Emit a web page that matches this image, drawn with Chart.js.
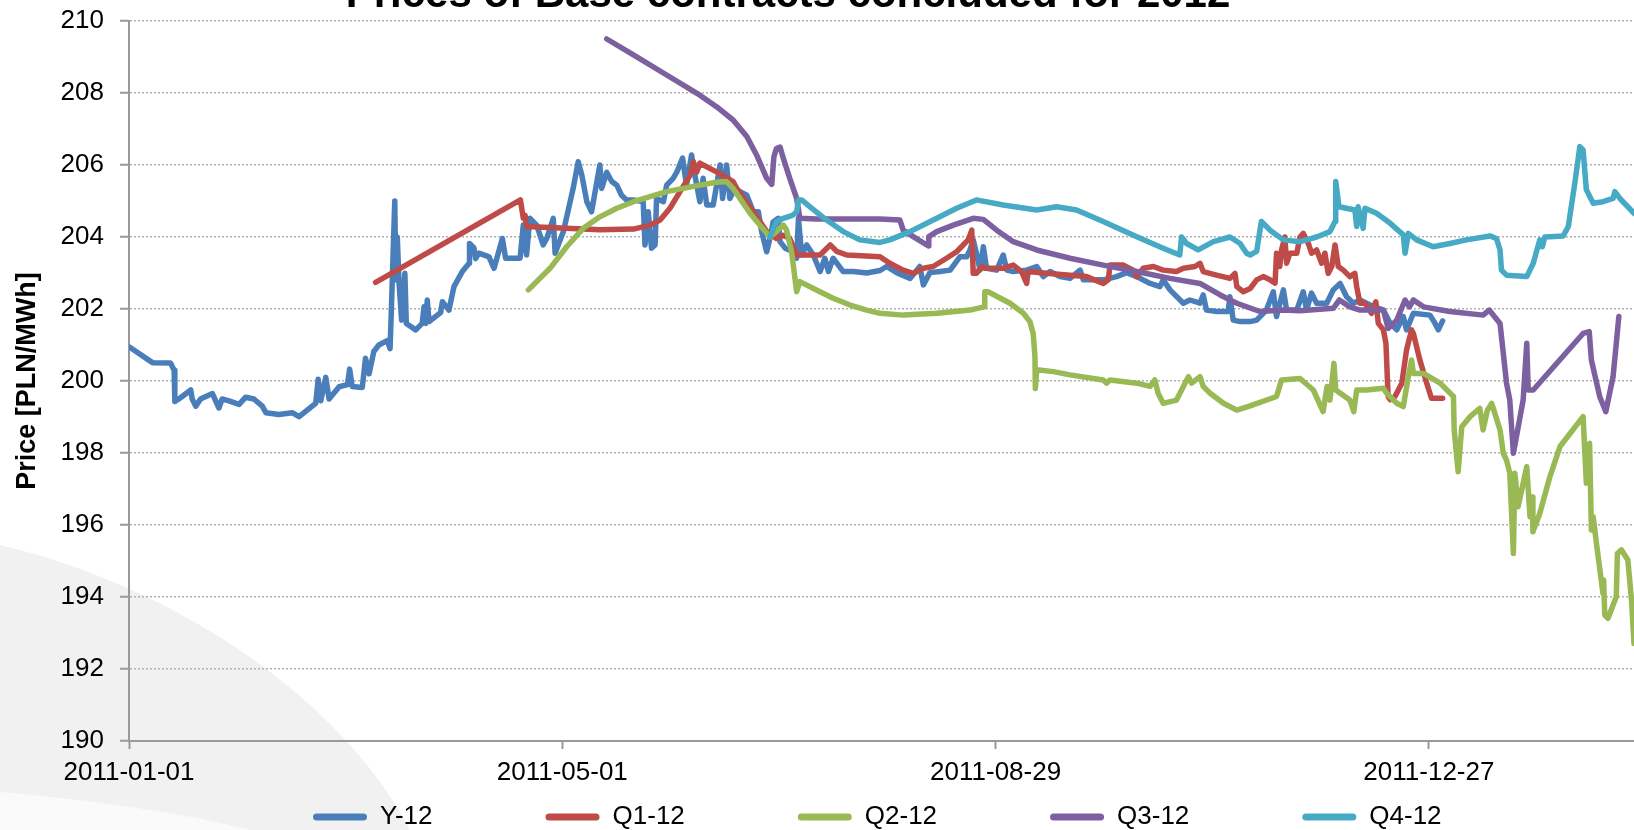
<!DOCTYPE html>
<html>
<head>
<meta charset="utf-8">
<script src="https://cdn.jsdelivr.net/npm/chart.js@4.4.1/dist/chart.umd.min.js"></script>
<style>
html,body{margin:0;padding:0;width:1634px;height:830px;overflow:hidden;background:#ffffff;}
#bg{position:absolute;left:0;top:0;}
#wrap{position:absolute;left:0;top:-40px;width:1634px;height:870px;}
</style>
</head>
<body>
<svg id="bg" width="1634" height="830">
  <path d="M0,545 C150,580 330,680 410,830 L0,830 Z" fill="#f1f1f1"/>
  <path d="M0,792 C90,800 180,812 250,830 L0,830 Z" fill="#fafafa"/>
</svg>
<div id="wrap"><canvas id="c" width="1634" height="870"></canvas></div>
<script>
// Day offsets are days since 2011-01-01
const seriesNames = ['Y-12', 'Q1-12', 'Q2-12', 'Q3-12', 'Q4-12'];
const tickDays = [0, 120, 240, 360];
const tickLabels = ['2011-01-01', '2011-05-01', '2011-08-29', '2011-12-27'];

const y12Days = [0,6.5,11.5,12.5,12.7,13.8,17.1,17.5,18.5,19.8,23.1,24.9,25.8,27.7,30.5,32.3,34.6,36.9,37.9,41.5,45.2,47.1,51.7,52.4,53.1,54.5,55.4,58.2,60.5,61.1,61.8,64.6,65.5,66.5,67.8,69.2,71.5,72.3,72.6,73.6,73.9,74.3,74.8,75.5,76.4,76.8,79.4,81.2,81.7,82.2,82.6,83.1,86.3,86.8,88.6,90.0,92.3,94.2,94.3,95.5,96.0,96.9,99.7,101.1,103.4,104.3,
105.5,108.3,109.2,110.1,111.0,112.9,114.7,115.7,117.5,118.0,120.3,123.0,124.4,125.4,126.8,128.1,130.4,130.9,132.3,133.7,135.1,136.4,137.8,139.7,142.4,142.9,143.8,144.7,145.7,146.1,148.0,148.9,150.7,151.7,153.3,154.4,155.8,156.7,158.1,159.0,160.0,161.8,163.7,164.4,165.5,166.4,167.8,169.2,171.1,172.9,174.3,175.2,176.6,177.5,178.4,179.8,180.3,181.7,184.0,184.9,185.4,186.3,187.7,189.5,191.4,192.7,193.7,195.0,197.8,200.6,204.3,208.0,
209.8,212.6,216.3,219.0,220.0,221.8,224.6,227.4,230.1,232.0,232.9,233.8,234.7,235.7,236.6,237.5,240.3,242.1,243.1,244.9,248.6,251.4,253.2,255.1,257.8,260.6,263.4,264.3,269.8,273.5,276.3,279.1,282.8,285.5,286.4,288.3,292.0,293.8,296.6,297.5,298.4,301.2,304.4,304.9,305.8,307.7,310.5,
312.3,315.0,316.9,317.8,319.7,320.6,323.4,325.2,326.1,327.5,328.9,331.7,333.5,335.4,337.2,339.1,340.9,343.7,347.4,349.3,351.1,352.9,353.8,355.7,360.3,361.7,362.6,363.8];
const y12Vals = [200.95,200.51,200.5,200.3,199.43,199.5,199.75,199.5,199.3,199.5,199.65,199.25,199.5,199.45,199.35,199.55,199.5,199.3,199.12,199.07,199.12,199.01,199.38,200.05,199.45,200.1,199.5,199.84,199.9,200.33,199.85,199.82,200.63,200.2,200.82,201.0,201.12,200.9,201.79,205.0,202.81,204.0,202.7,201.69,202.99,201.6,201.42,201.6,202.06,201.6,202.25,201.65,201.9,202.2,201.97,202.62,203.04,203.27,203.82,203.7,203.4,203.55,203.45,203.13,203.96,203.41,
203.41,203.41,204.33,203.5,204.52,204.33,203.78,203.96,204.52,203.55,204.15,205.35,206.09,205.72,204.98,204.7,206.0,205.35,205.8,205.54,205.44,205.16,205.03,205.03,204.98,203.78,204.7,203.69,203.78,205.07,204.98,205.44,205.63,205.8,206.19,205.44,206.28,205.72,204.98,205.63,204.89,204.89,206.0,205.07,206.0,205.07,205.35,205.26,205.16,204.7,204.7,204.15,203.59,203.96,204.42,204.52,203.87,203.69,203.59,203.41,204.52,203.5,203.78,203.5,203.04,203.41,203.04,203.41,203.04,203.04,203.0,203.07,
203.18,203.01,202.85,203.18,202.67,203.01,203.04,203.08,203.45,203.45,203.64,203.92,203.55,203.08,203.73,203.13,203.08,203.5,203.08,203.04,203.08,203.18,202.9,203.04,202.9,202.85,203.08,202.81,202.81,202.9,203.01,202.9,202.71,202.62,202.81,202.53,202.16,202.25,202.16,202.39,201.97,201.93,201.93,202.34,201.69,201.65,201.65,
201.69,201.97,202.48,201.79,202.53,201.97,201.97,202.48,201.97,202.44,202.16,202.16,202.53,202.71,202.34,202.16,202.25,202.11,201.97,201.6,201.42,201.79,201.42,201.88,201.83,201.6,201.42,201.67];

const q1Days = [68.3,108.4,109.2,109.7,110.1,121.2,130.4,139.7,144.3,147.1,149.8,152.6,155.4,156.3,157.2,158.1,162.7,167.3,168.3,172.9,176.6,179.3,181.2,183.0,184.9,191.4,194.2,196.0,198.8,208.0,210.7,214.4,217.2,220.0,222.7,226.4,229.2,232.4,233.4,233.8,234.7,236.1,237.0,242.1,244.9,247.2,248.6,249.0,254.1,260.6,265.2,269.8,271.2,271.7,275.4,278.1,279.1,280.9,283.7,286.4,290.1,292.0,295.2,296.6,297.5,301.2,304.9,306.3,306.8,308.6,310.5,312.3,314.1,316.0,317.4,317.8,318.7,319.2,320.1,320.6,321.5,323.4,324.3,325.2,326.6,327.5,328.9,330.3,331.2,332.1,333.1,334.0,334.9,336.3,338.1,339.5,340.0,340.9,342.3,344.1,345.3,346.0,347.4,348.1,348.7,349.3,350.6,352.5,353.8,355.2,355.7,357.5,359.4,360.7,363.8];
const q1Vals = [202.74,205.03,204.52,204.6,204.29,204.24,204.2,204.22,204.33,204.47,204.8,205.26,205.72,206.09,205.8,206.05,205.81,205.54,205.35,204.7,204.15,203.96,204.05,203.96,203.5,203.5,203.78,203.6,203.5,203.45,203.27,203.08,202.99,203.13,203.18,203.41,203.59,203.92,204.19,202.99,202.99,203.18,203.13,203.13,203.22,203.04,202.71,203.04,202.99,202.94,202.9,202.71,202.81,203.22,203.22,203.08,202.9,203.13,203.18,203.08,203.04,203.13,203.18,203.27,203.04,202.94,202.85,202.99,202.62,202.48,202.57,202.81,202.9,202.81,202.72,203.55,203.18,203.64,204.0,203.27,203.55,203.55,204.0,204.1,203.82,203.55,203.64,203.27,203.55,202.99,203.18,203.78,203.18,203.08,202.9,202.99,202.62,202.16,202.16,201.88,202.2,201.6,201.42,201.05,199.57,199.48,199.57,199.94,200.86,201.42,201.32,200.58,199.94,199.52,199.52];

const q2Days = [110.6,116.6,121.2,125.8,130.4,135.1,139.7,144.3,148.9,153.5,158.1,162.7,165.5,167.3,172.0,174.7,177.5,179.3,181.2,182.1,183.5,184.9,185.8,190.4,195.0,199.7,204.3,208.0,214.4,223.7,232.9,236.8,237.0,237.9,244.0,247.7,249.5,250.4,250.9,251.0,251.4,256.0,260.6,269.8,270.7,271.7,279.1,282.8,284.1,285.0,286.4,290.1,292.0,293.4,294.3,296.6,297.5,299.4,303.1,306.8,310.5,317.8,319.2,324.3,328.0,330.7,331.8,332.6,333.7,334.2,338.1,339.2,340.0,342.7,347.4,348.3,351.1,352.9,354.3,355.2,355.7,358.5,363.1,366.8,367.0,368.1,369.1,371.4,374.1,375.0,376.2,377.4,379.7,380.6,381.5,382.4,383.4,383.8,384.7,387.1,388.0,388.7,388.8,390.7,393.5,396.3,402.7,403.6,404.5,405.0,405.5,406.4,408.2,408.4,408.7,409.6,411.9,412.2,413.3,415.1,416.1,416.8,418.5];
const q2Vals = [202.53,203.13,203.73,204.24,204.56,204.8,204.98,205.12,205.26,205.35,205.44,205.52,205.54,205.35,204.66,204.33,204.0,204.15,204.33,204.2,203.59,202.48,202.76,202.53,202.3,202.11,201.97,201.88,201.83,201.88,201.97,202.06,202.48,202.48,202.16,201.88,201.65,201.32,200.68,199.79,200.31,200.26,200.17,200.03,199.94,200.03,199.94,199.85,200.03,199.66,199.38,199.47,199.85,200.12,199.94,200.12,199.85,199.66,199.38,199.19,199.31,199.57,200.03,200.07,199.75,199.15,199.85,199.47,200.49,199.75,199.47,199.15,199.75,199.75,199.8,199.66,199.38,199.29,200.12,200.58,200.21,200.21,199.94,199.57,198.64,197.48,198.73,199.01,199.24,198.64,199.19,199.38,198.64,197.99,197.8,197.44,195.21,197.44,196.51,197.62,196.23,196.78,195.81,196.32,197.34,198.18,199.01,197.16,198.27,195.86,196.23,195.49,194.1,194.47,193.5,193.41,194.01,195.21,195.31,195.03,193.92,192.71,191.6];

const q3Days = [132.3,139.7,148.9,158.1,162.7,167.3,171.1,173.8,176.6,178.0,178.6,179.3,180.3,181.2,183.0,184.9,185.8,190.4,208.0,213.5,214.4,217.2,221.4,221.5,223.7,228.3,233.8,236.6,240.3,244.9,251.4,260.6,269.8,279.1,288.3,296.6,302.2,306.8,313.2,319.7,324.3,333.5,335.2,338.1,340.9,347.4,348.7,351.1,353.4,354.6,355.7,358.5,365.8,375.0,376.7,379.7,381.5,382.4,383.4,386.1,387.1,387.5,388.9,402.7,404.4,405.0,407.3,409.0,411.0,411.9,412.6];
const q3Vals = [209.5,209.06,208.5,207.94,207.62,207.25,206.79,206.28,205.63,205.46,206.23,206.46,206.5,206.19,205.63,205.07,204.52,204.5,204.5,204.47,204.19,204.01,203.75,204.01,204.15,204.33,204.52,204.49,204.19,203.87,203.64,203.41,203.22,203.04,202.85,202.71,202.39,202.16,201.93,201.97,201.95,202.02,202.25,202.06,201.97,201.97,201.46,201.69,202.25,202.06,202.25,202.06,201.93,201.83,201.97,201.6,199.94,199.47,197.99,199.47,201.05,199.75,199.75,201.32,201.37,200.58,199.57,199.15,200.12,201.05,201.79];

const q4Days = [177.5,179.3,181.2,183.9,184.9,185.4,186.3,188.6,193.2,197.8,202.4,208.0,210.7,216.3,223.7,229.2,234.7,242.1,251.4,256.9,262.4,269.8,279.1,286.4,291.0,291.5,292.9,296.1,300.3,304.9,307.7,309.5,310.5,311.4,312.3,313.6,316.0,319.7,324.3,328.9,332.6,334.0,334.2,335.1,339.5,340.0,340.4,341.8,342.3,345.5,349.3,352.9,353.4,354.3,356.6,361.2,365.8,370.4,376.9,378.7,379.7,380.1,381.5,387.1,388.9,390.7,391.4,392.1,397.2,398.6,400.4,401.8,402.7,403.6,405.5,408.2,411.0,411.5,412.9,416.8,418.5];
const q4Vals = [204.0,204.43,204.52,204.61,204.7,205.03,205.03,204.84,204.47,204.15,203.92,203.85,203.92,204.15,204.52,204.8,205.03,204.89,204.75,204.84,204.75,204.43,204.01,203.69,203.5,204.0,203.82,203.64,203.87,204.0,203.82,203.55,203.5,203.55,203.6,204.43,204.19,203.92,203.87,204.0,204.15,204.43,205.54,204.84,204.75,204.29,204.84,204.24,204.8,204.66,204.38,204.06,203.55,204.1,203.92,203.73,203.82,203.92,204.03,203.96,203.64,203.08,202.94,202.9,203.27,203.92,203.73,204.0,204.03,204.29,205.49,206.51,206.42,205.31,204.94,204.98,205.07,205.26,205.07,204.66,204.45];

const seriesDays = [y12Days, q1Days, q2Days, q3Days, q4Days];
const seriesVals = [y12Vals, q1Vals, q2Vals, q3Vals, q4Vals];
const seriesColors = ['#4A7EBB', '#BE4B48', '#98B954', '#7D60A0', '#46AAC5'];

const FONT = "'Liberation Sans', Arial, sans-serif";

const datasets = seriesNames.map((name, k) => ({
  label: name,
  data: seriesDays[k].map((d, i) => ({x: d, y: seriesVals[k][i]})),
  borderColor: seriesColors[k],
  backgroundColor: seriesColors[k],
  borderWidth: 5.5,
  pointRadius: 0,
  tension: 0,
  borderJoinStyle: 'round',
  borderCapStyle: 'round',
  order: seriesNames.length - k
}));

const placeBoxes = {
  id: 'placeBoxes',
  afterLayout(chart) {
    const t = chart.titleBlock;
    if (t) { t.left = -29; t.right = 1605; }
    const lg = chart.legend;
    if (lg && lg.lineWidths) {
      const pad = lg.options.labels.padding;
      const x0 = (lg.left + pad + lg.right - lg.lineWidths[0]) / 2;
      const dx = 313 - x0;
      lg.left += dx; lg.right += dx;
      lg.top = 857 - pad - 13;
      lg.bottom = 870;
      lg.height = lg.bottom - lg.top;
    }
  }
};

new Chart(document.getElementById('c'), {
  type: 'line',
  data: { datasets },
  plugins: [placeBoxes],
  options: {
    responsive: false,
    animation: false,
    events: [],
    layout: { padding: 0 },
    plugins: {
      title: {
        display: true,
        text: 'Prices of Base contracts concluded for 2012',
        color: '#000',
        font: { family: FONT, size: 42, weight: 'bold' },
        padding: { top: 10.6, bottom: 0 }
      },
      legend: {
        display: true,
        position: 'bottom',
        reverse: true,
        maxHeight: 39,
        labels: {
          color: '#000',
          font: { family: FONT, size: 26 },
          boxWidth: 54,
          boxHeight: 7,
          padding: 113,
          useBorderRadius: true,
          borderRadius: 3.5,
          generateLabels(chart) {
            const items = Chart.defaults.plugins.legend.labels.generateLabels(chart);
            items.forEach(it => { it.fillStyle = it.strokeStyle; it.lineWidth = 0; it.borderRadius = 3.5; });
            return items;
          }
        }
      },
      tooltip: { enabled: false }
    },
    scales: {
      x: {
        type: 'linear',
        min: 0,
        max: 416.8,
        afterFit(scale) { scale.height = 50; },
        afterBuildTicks(scale) { scale.ticks = tickDays.map(v => ({ value: v })); },
        ticks: {
          autoSkip: false,
          maxRotation: 0,
          color: '#000',
          padding: 8,
          font: { family: FONT, size: 26 },
          callback(value, index) { return tickLabels[index]; }
        },
        grid: {
          drawOnChartArea: false,
          drawTicks: true,
          tickLength: 8,
          tickColor: '#999999',
          tickWidth: 2,
          color: '#999999'
        },
        border: { display: true, color: '#999999', width: 2 }
      },
      y: {
        min: 190,
        max: 210,
        afterFit(scale) { scale.width = 129; },
        ticks: {
          stepSize: 2,
          color: '#000',
          padding: 16,
          font: { family: FONT, size: 26 }
        },
        title: {
          display: true,
          text: 'Price [PLN/MWh]',
          color: '#000',
          font: { family: FONT, size: 27, weight: 'bold' },
          padding: { top: 11, bottom: 0 }
        },
        grid: {
          color: '#b0b0b0',
          lineWidth: 1.5,
          drawTicks: true,
          tickLength: 9,
          tickColor: '#999999',
          tickWidth: 2,
          tickBorderDash: []
        },
        border: { display: true, color: '#999999', width: 2, dash: [2, 2] }
      }
    }
  }
});
</script>
</body>
</html>
